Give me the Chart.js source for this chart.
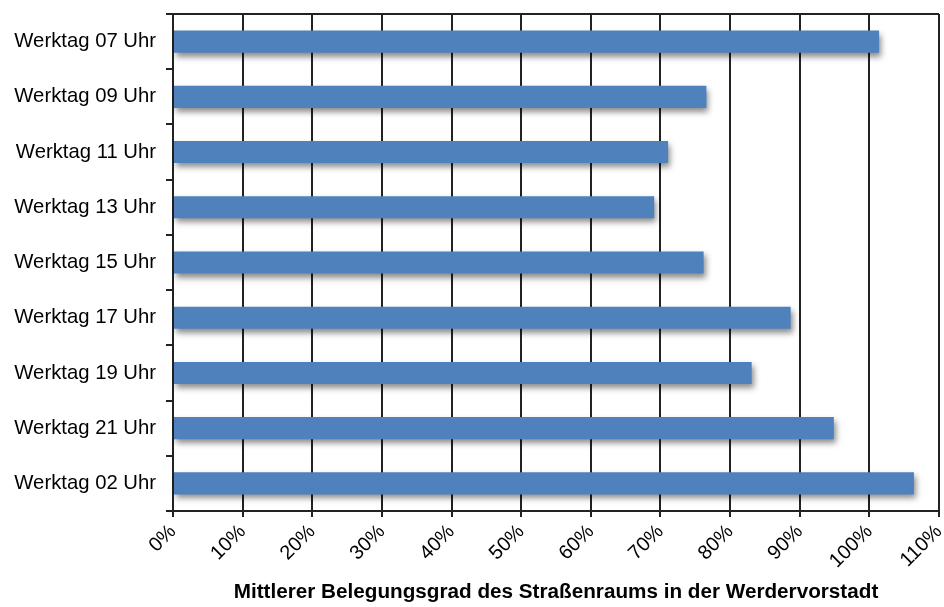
<!DOCTYPE html>
<html>
<head>
<meta charset="utf-8">
<script src="https://cdn.jsdelivr.net/npm/chart.js@4"></script>
<style>
  html, body { margin: 0; padding: 0; background: #fff; }
  #wrap { width: 944px; height: 607px; }
</style>
</head>
<body>
<div id="wrap"><canvas id="belegung"></canvas></div>
<script>
// Kategorien und Werte (Belegungsgrad in %)
var zeiten = ['Werktag 07 Uhr', 'Werktag 09 Uhr', 'Werktag 11 Uhr', 'Werktag 13 Uhr',
              'Werktag 15 Uhr', 'Werktag 17 Uhr', 'Werktag 19 Uhr', 'Werktag 21 Uhr', 'Werktag 02 Uhr'];
var belegung = [101.4, 76.6, 71.1, 69.1, 76.2, 88.7, 83.1, 94.9, 106.4];
var achseMin = 0;
var achseMax = 110;
var achseSchritt = 10;

var schrift = "'Liberation Sans', Arial, sans-serif";

// Schatten hinter den Balken
var schattenPlugin = {
    id: 'schatten',
    beforeDatasetsDraw: function (chart) {
        var ctx = chart.ctx;
        ctx.save();
        ctx.shadowColor = 'rgba(0,0,0,0.45)';
        ctx.shadowBlur = 6;
        ctx.shadowOffsetX = 2;
        ctx.shadowOffsetY = 4;
    },
    afterDatasetsDraw: function (chart) {
        chart.ctx.restore();
    }
};

// obere Rahmenlinie
var rahmenPlugin = {
    id: 'rahmen',
    afterDraw: function (chart) {
        var a = chart.chartArea, ctx = chart.ctx;
        ctx.save();
        ctx.strokeStyle = '#222';
        ctx.lineWidth = 2;
        ctx.beginPath();
        ctx.moveTo(a.left, a.top);
        ctx.lineTo(a.right, a.top);
        ctx.stroke();
        ctx.restore();
    }
};

var ctx = document.getElementById('belegung');
new Chart(ctx, {
    type: 'bar',
    data: {
        labels: zeiten,
        datasets: [{
            data: belegung,
            backgroundColor: '#4F81BD',
            borderWidth: 0,
            barPercentage: 0.4,
            categoryPercentage: 1.0
        }]
    },
    plugins: [schattenPlugin, rahmenPlugin],
    options: {
        indexAxis: 'y',
        responsive: true,
        maintainAspectRatio: false,
        animation: false,
        layout: { padding: { top: 14, right: 5, left: 0, bottom: 0 } },
        plugins: {
            legend: { display: false },
            tooltip: { enabled: false }
        },
        scales: {
            x: {
                min: achseMin,
                max: achseMax,
                ticks: {
                    stepSize: achseSchritt,
                    minRotation: 45,
                    maxRotation: 45,
                    color: '#000',
                    font: { family: schrift, size: 20 },
                    padding: 3,
                    callback: function (v) { return v + '%'; }
                },
                grid: { color: '#222', lineWidth: 2, tickLength: 6 },
                border: { color: '#222', width: 2 },
                title: {
                    display: true,
                    text: 'Mittlerer Belegungsgrad des Straßenraums in der Werdervorstadt',
                    color: '#000',
                    font: { family: schrift, size: 20.7, weight: 'bold' },
                    padding: { top: 0, bottom: 2 }
                },
                afterFit: function (scale) {
                    scale.height = 96;
                    scale.paddingLeft = 0;
                    scale.paddingRight = 0;
                }
            },
            y: {
                ticks: {
                    color: '#000',
                    font: { family: schrift, size: 20.3 },
                    padding: 10
                },
                grid: { drawOnChartArea: false, color: '#222', lineWidth: 2, tickLength: 7 },
                border: { color: '#222', width: 2 },
                afterFit: function (scale) {
                    scale.width = 173;
                    scale.paddingTop = 0;
                    scale.paddingBottom = 0;
                }
            }
        }
    }
});
</script>
</body>
</html>
